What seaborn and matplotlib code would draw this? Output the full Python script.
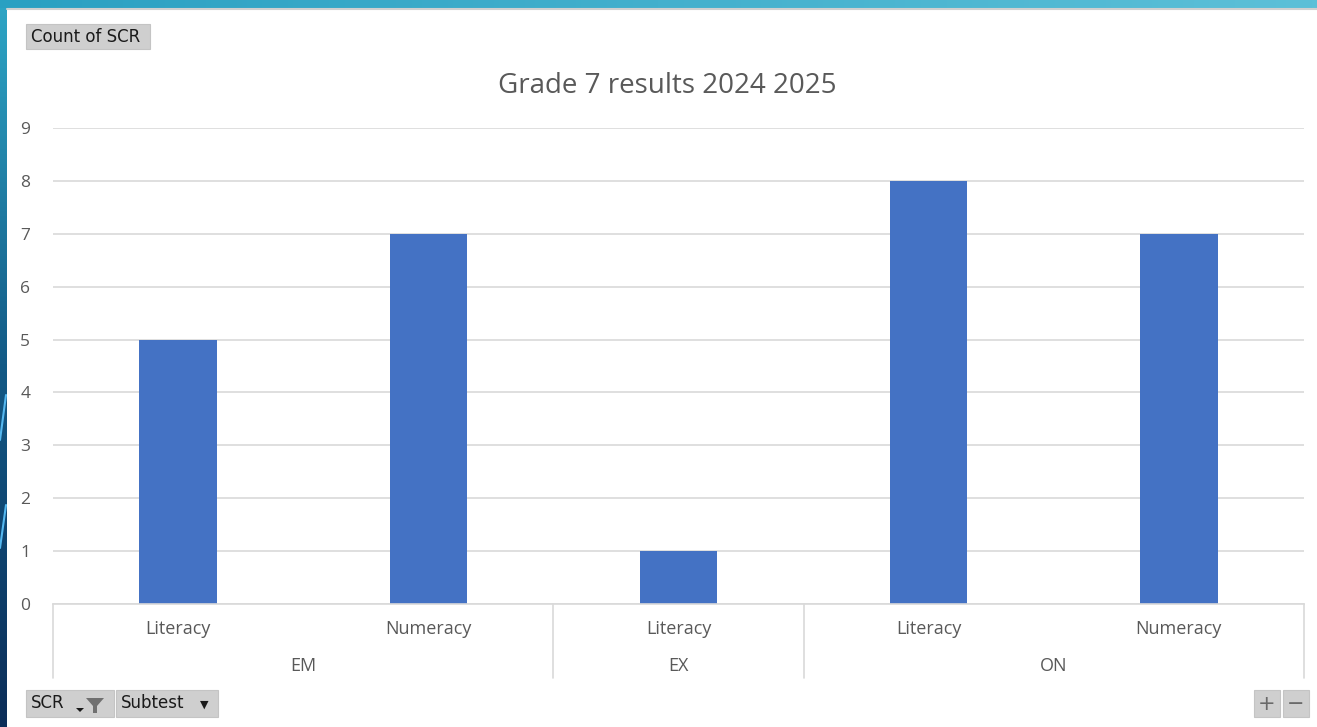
import matplotlib
matplotlib.use("Agg")
import matplotlib.pyplot as plt
import seaborn as sns
import pandas as pd
import numpy as np
from matplotlib.patches import Rectangle, Polygon
from matplotlib.lines import Line2D

# data
groups = ["EM", "EM", "EX", "ON", "ON"]
subtests = ["Literacy", "Numeracy", "Literacy", "Literacy", "Numeracy"]
counts = [5, 7, 1, 8, 7]

sns.set_theme(style="white")
plt.rcParams['font.family'] = ['Open Sans', 'DejaVu Sans']

df = pd.DataFrame({"key": [f"{g} {s}" for g, s in zip(groups, subtests)],
                   "count": counts})

W, H = 1317, 727
fig = plt.figure(figsize=(W / 100, H / 100), dpi=100)
fig.patch.set_facecolor("white")

# slide frame behind the chart
grad = np.linspace(0, 1, 256).reshape(-1, 1)
cmap = matplotlib.colors.LinearSegmentedColormap.from_list("side", ["#2ea6c6", "#135a86", "#0b2d58"])
side = fig.add_axes([0, 0, 7 / W, 1])
side.imshow(grad, aspect="auto", cmap=cmap, extent=[0, 1, 0, 1])
side.axis("off")
top = fig.add_axes([0, 1 - 8 / H, 1, 8 / H])
tcmap = matplotlib.colors.LinearSegmentedColormap.from_list("top", ["#2aa0c2", "#5cc0d8"])
top.imshow(np.linspace(0, 1, 256).reshape(1, -1), aspect="auto", cmap=tcmap, extent=[0, 1, 0, 1])
top.axis("off")
fig.add_artist(Line2D([7 / W, 1], [1 - 9 / H, 1 - 9 / H], color="#d0d0d0", lw=1.5))
for y0, y1 in [(440, 395), (548, 505)]:
    fig.add_artist(Line2D([0, 6 / W], [1 - y0 / H, 1 - y1 / H], color="#55b8f0", lw=1.5))

ax = fig.add_axes([53 / W, 1 - 604 / H, 1251 / W, 476 / H])
sns.barplot(data=df, x="key", y="count", color="#4472C4", saturation=1, width=0.31,
            linewidth=0, ax=ax)

ax.set_ylim(0, 9)
ax.set_xlim(-0.5, len(counts) - 0.5)
ax.set_yticks(range(0, 10))
ax.yaxis.grid(True, color="#d9d9d9", lw=1.2)
ax.set_axisbelow(True)
for s in ["top", "right", "left"]:
    ax.spines[s].set_visible(False)
ax.spines["bottom"].set_color("#d9d9d9")
ax.spines["bottom"].set_linewidth(1.2)
ax.tick_params(axis="y", length=0, pad=20, labelsize=12.5, labelcolor="#595959")
for lab in ax.get_yticklabels():
    lab.set_horizontalalignment("center")
ax.set_xticks([])
ax.set_xlabel("")
ax.set_ylabel("")

# two-level category axis
tr = ax.get_xaxis_transform()
px = 1 / 476
for i, s in enumerate(subtests):
    ax.text(i, -25 * px, s, transform=tr, ha="center", va="center", fontsize=13, color="#595959")
starts = [0]
for i in range(1, len(groups)):
    if groups[i] != groups[i - 1]:
        starts.append(i)
ends = starts[1:] + [len(groups)]
for a, b in zip(starts, ends):
    ax.text((a + b - 1) / 2, -62 * px, groups[a], transform=tr, ha="center", va="center",
            fontsize=13, color="#595959")
for xb in [s - 0.5 for s in starts] + [len(groups) - 0.5]:
    ax.add_line(Line2D([xb, xb], [0, -74 * px], transform=tr, color="#d9d9d9", lw=1.2, clip_on=False))

fig.text(667 / W, 1 - 86 / H, "Grade 7 results 2024 2025", ha="center", va="center",
         fontsize=20, color="#595959")


# pivot field buttons
def button(x0, x1, y0, y1, label, tx=None):
    fig.add_artist(Rectangle((x0 / W, 1 - y1 / H), (x1 - x0) / W, (y1 - y0) / H,
                             facecolor="#cfcfcf", edgecolor="#c4c4c4", lw=0.8))
    if label:
        fig.text((tx if tx else x0 + 5) / W, 1 - (y0 + y1) / 2 / H, label, ha="left", va="center",
                 fontsize=12, color="#1a1a1a", family=["DejaVu Sans"])


button(26, 150, 24, 49, "Count of SCR")
button(26, 114, 690, 717, "SCR")
button(116, 218, 690, 717, "Subtest")
fig.text(204 / W, 1 - 705 / H, "▼", ha="center", va="center", fontsize=8, color="#1a1a1a",
         family="DejaVu Sans")
fig.add_artist(Polygon([[(86) / W, 1 - 698 / H], [(104) / W, 1 - 698 / H], [(97) / W, 1 - 706 / H],
                        [(97) / W, 1 - 713 / H], [(93) / W, 1 - 713 / H], [(93) / W, 1 - 706 / H]],
                       closed=True, facecolor="#707070", edgecolor="none"))
fig.add_artist(Polygon([[(76) / W, 1 - 708 / H], [(84) / W, 1 - 708 / H], [(80) / W, 1 - 712 / H]],
                       closed=True, facecolor="#1a1a1a", edgecolor="none"))
button(1254, 1280, 690, 717, None)
button(1283, 1309, 690, 717, None)
fig.text(1267 / W, 1 - 704 / H, "+", ha="center", va="center", fontsize=15, color="#6a6a6a",
         family="DejaVu Sans")
fig.text(1296 / W, 1 - 704 / H, "−", ha="center", va="center", fontsize=15, color="#6a6a6a",
         family="DejaVu Sans")

fig.savefig("out.png", dpi=100)
